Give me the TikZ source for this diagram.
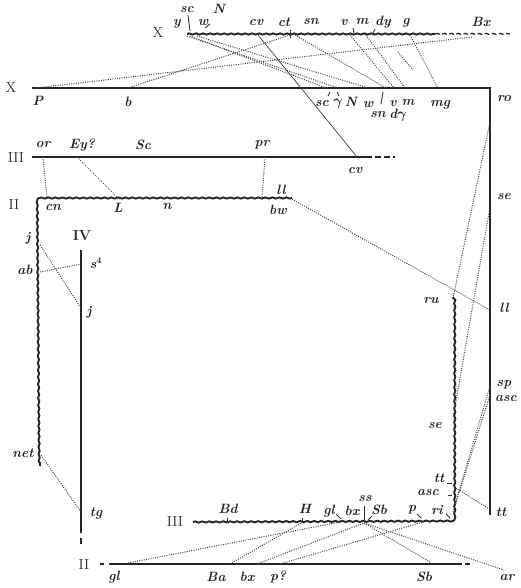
\documentclass[tikz,border=0pt]{standalone}
\usepackage{amsmath}
\usetikzlibrary{decorations.pathmorphing}
\begin{document}
\begin{tikzpicture}[x=1pt,y=-1pt,
  chrom/.style={line width=2.4pt, black!85},
  wavy/.style={line width=1.9pt, black!85, decorate, decoration={snake, amplitude=0.6pt, segment length=7pt}},
  homol/.style={line width=1pt, black!72, dash pattern=on 1pt off 1.3pt},
  thinl/.style={line width=0.7pt, black!75},
  lab/.style={font=\fontsize{13.5}{13.5}\selectfont\bfseries\itshape, inner sep=0pt, text=black!85},
  rom/.style={font=\fontsize{14.5}{14.5}\selectfont, inner sep=0pt, text=black!85},
  tickm/.style={line width=0.9pt, black!80}]
\path[use as bounding box] (0,0) rectangle (520,588);

% ---------- coordinates: top X (melanogaster X)
\coordinate (tXa) at (187,34); \coordinate (tXb) at (435,34); \coordinate (tXc) at (510,34);
\coordinate (ty) at (187,36); \coordinate (tsc) at (190,36); \coordinate (tw) at (197,36);
\coordinate (tcv) at (258,35); \coordinate (tct) at (290,35); \coordinate (tsn) at (295,35);
\coordinate (tv) at (350,35); \coordinate (tm) at (366,35); \coordinate (tdy) at (378,35);
\coordinate (tg) at (410,35); \coordinate (tBx) at (472,37);
\coordinate (sdA) at (398,52); \coordinate (sdB) at (413,70);
% lower X
\coordinate (xa) at (32,88); \coordinate (xc) at (490,88); \coordinate (xe) at (490,515);
\coordinate (xP) at (36,88); \coordinate (xb) at (128,88); \coordinate (xsc) at (326,88);
\coordinate (xy) at (338,88); \coordinate (xw) at (368,88); \coordinate (xsn) at (386,88);
\coordinate (xv) at (394,88); \coordinate (xm) at (405,88); \coordinate (xmg) at (438,88);
\coordinate (xro) at (490,122); \coordinate (xse) at (490,207); \coordinate (xll) at (490,310);
\coordinate (xsp) at (490,386); \coordinate (xasc) at (490,395); \coordinate (xtt) at (491,510);
% upper III
\coordinate (uA) at (32,157); \coordinate (uB) at (366,157); \coordinate (uC) at (395,157);
\coordinate (uor) at (43,157); \coordinate (uEy) at (77,157); \coordinate (upr) at (265,157);
\coordinate (ucv) at (357,157);
% II wavy
\coordinate (IIa) at (38,198); \coordinate (IIb) at (292,198); \coordinate (IIc) at (40,466);
\coordinate (IIcn) at (47,198); \coordinate (IIL) at (118,198); \coordinate (IIbw) at (262,198);
\coordinate (IIll) at (290,198); \coordinate (IIj) at (40,245); \coordinate (IIab) at (40,272);
\coordinate (IInet) at (41,455);
% IV
\coordinate (IVa) at (81,250); \coordinate (IVb) at (81,533); \coordinate (IVd) at (81,538); \coordinate (IVe) at (81,544);
\coordinate (IVs) at (81,264); \coordinate (IVj) at (81,308); \coordinate (IVtg) at (81,512);
% bottom III wavy
\coordinate (bA) at (193,522); \coordinate (bC) at (453,521); \coordinate (bT) at (453,297);
\coordinate (bH) at (303,522); \coordinate (bgl) at (340,522);
\coordinate (bss) at (364,523); \coordinate (bp) at (423,522);
\coordinate (bri) at (453,512); \coordinate (bri2) at (455,505); \coordinate (btt) at (454,487);
\coordinate (bse) at (453,418); \coordinate (bru) at (453,298);
% bottom II
\coordinate (cA) at (109,564); \coordinate (cB) at (457,564); \coordinate (cC) at (472,564);
\coordinate (cdA) at (100,564); \coordinate (cdB) at (104,564);
\coordinate (cgl) at (128,563); \coordinate (cBa) at (230,564); \coordinate (cbx) at (257,564);
\coordinate (cp) at (280,564); \coordinate (cSb) at (430,562); \coordinate (car) at (504,570);

% ---------- chromosomes
\draw[wavy] (tXa) -- (tXb);
\draw[wavy, line width=1.3pt, dash pattern=on 5pt off 2.5pt] (tXb) -- (tXc);
\draw[chrom] (xa) -- (xc) -- (xe);
\draw[chrom] (uA) -- (uB);
\draw[chrom, dash pattern=on 6pt off 3pt] (uB) -- (uC);
\draw[wavy] (IIb) -- (IIa) -- (IIc);
\draw[chrom, line width=2.2pt] (IVa) -- (IVb);
\draw[chrom, line width=1.8pt] (IVd) -- (IVe);
\draw[wavy] (bA) -- (bC) -- (bT);
\draw[chrom] (cA) -- (cB);
\draw[chrom, line width=1.6pt, dash pattern=on 5pt off 2.5pt] (cB) -- (cC);
\draw[chrom, line width=1.6pt] (cdA) -- (cdB);

% ---------- connectors
\draw[thinl] (tcv) -- (ucv);
\draw[homol] (tBx) -- (xP);
\draw[homol] (tct) -- (xb);
\draw[homol] (tsc) -- (xsc);
\draw[homol] (ty) -- (xy);
\draw[homol] (tw) -- (xw);
\draw[homol] (tsn) -- (xsn);
\draw[homol] (tv) -- (xv);
\draw[homol] (tm) -- (xm);
\draw[homol] (tg) -- (xmg);
\draw[homol] (sdA) -- (sdB);
\draw[homol] (uor) -- (IIcn);
\draw[homol] (uEy) -- (IIL);
\draw[homol] (upr) -- (IIbw);
\draw[homol] (IIll) -- (xll);
\draw[homol] (IIj) -- (IVj);
\draw[homol] (IIab) -- (IVs);
\draw[homol] (IInet) -- (IVtg);
\draw[homol] (xro) -- (bru);
\draw[homol] (xse) -- (bse);
\draw[homol] (xsp) -- (bri2);
\draw[homol] (xasc) -- (bri);
\draw[homol] (btt) -- (xtt);
\draw[homol] (cgl) -- (bgl);
\draw[homol] (cBa) -- (bH);
\draw[homol] (cbx) -- (bss);
\draw[homol] (cp) -- (bp);
\draw[homol] (bss) -- (cSb);
\draw[homol] (bss) -- (car);

% ---------- ticks
\draw[tickm] (188,15) -- (190,31);
\draw[tickm] (205,28) -- (210,24);
\draw[tickm] (353,28) -- (354,33);
\draw[tickm] (375,29) -- (373,33);
\draw[tickm] (290,30) -- (290,38);
\draw[tickm] (383,92) -- (381,104);
\draw[tickm] (364,506) -- (364,523);
\draw[tickm] (336,514) -- (341,519);
\draw[tickm] (372,516) -- (368,520);
\draw[tickm] (417,514) -- (421,518);
\draw[tickm] (446,514) -- (450,518);
\draw[tickm] (227,518) -- (227,523);
\draw[tickm] (302,518) -- (302,523);
\draw[tickm] (447,483) -- (452,483);
\draw[tickm] (448,495) -- (452,495);
\draw[tickm] (330,92) -- (328,96);
\draw[tickm] (337,92) -- (339,96);

% ---------- labels
\node[rom] (LtX) at (158,33) {X};
\node[rom] (LxX) at (11,88) {X};
\node[rom] (LuIII) at (16,158) {III};
\node[rom] (LII) at (14,205) {II};
\node[rom, font=\fontsize{14.5}{14.5}\selectfont\bfseries] (LIV) at (82,236) {IV};
\node[rom] (LbIII) at (175,522) {III};
\node[rom] (LbII) at (84,565) {II};

\node[lab] (l1) at (177,24) {y};
\node[lab] (l2) at (187,10) {sc};
\node[lab] (l3) at (203,22) {w};
\node[lab] (l4) at (219,9) {N};
\node[lab] (l5) at (256,22) {cv};
\node[lab] (l6) at (284,22) {ct};
\node[lab] (l7) at (311,22) {sn};
\node[lab] (l8) at (344,22) {v};
\node[lab] (l9) at (362,22) {m};
\node[lab] (l10) at (383,22) {dy};
\node[lab] (l11) at (406,23) {g};
\node[lab] (l12) at (481,22) {Bx};

\node[lab] (l13) at (38,101) {P};
\node[lab] (l14) at (128,102) {b};
\node[lab] (l15) at (322,104) {sc};
\node[lab] (l16) at (338,104) {$\boldsymbol{\gamma}$};
\node[lab] (l17) at (351,102) {N};
\node[lab] (l18) at (368,104) {w};
\node[lab] (l19) at (393,103) {v};
\node[lab] (l20) at (408,103) {m};
\node[lab] (l21) at (378,115) {sn};
\node[lab] (l22) at (398,115) {d$\boldsymbol{\gamma}$};
\node[lab] (l23) at (440,105) {mg};
\node[lab] (l24) at (504,99) {ro};
\node[lab] (l25) at (504,197) {se};
\node[lab] (l26) at (504,308) {ll};
\node[lab] (l27) at (504,385) {sp};
\node[lab] (l28) at (506,398) {asc};
\node[lab] (l29) at (501,512) {tt};

\node[lab] (l30) at (43,145) {or};
\node[lab] (l31) at (82,145) {Ey?};
\node[lab] (l32) at (143,145) {Sc};
\node[lab] (l33) at (262,145) {pr};
\node[lab] (l34) at (355,170) {cv};

\node[lab] (l35) at (53,208) {cn};
\node[lab] (l36) at (118,208) {L};
\node[lab] (l37) at (167,207) {n};
\node[lab] (l38) at (278,210) {bw};
\node[lab] (l39) at (281,190) {ll};
\node[lab] (l40) at (28,238) {j};
\node[lab] (l41) at (25,270) {ab};
\node[lab] (l42) at (23,453) {net};

\node[lab] (l43) at (96,263) {s$^{\mathbf 4}$};
\node[lab] (l44) at (89,312) {j};
\node[lab] (l45) at (96,514) {tg};

\node[lab] (l46) at (228,509) {Bd};
\node[lab] (l47) at (305,509) {H};
\node[lab] (l48) at (329,511) {gl};
\node[lab] (l49) at (352,511) {bx};
\node[lab] (l50) at (365,498) {ss};
\node[lab] (l51) at (379,510) {Sb};
\node[lab] (l52) at (412,510) {p};
\node[lab] (l53) at (437,510) {ri};
\node[lab] (l54) at (428,492) {asc};
\node[lab] (l55) at (439,478) {tt};
\node[lab] (l56) at (435,425) {se};
\node[lab] (l57) at (431,301) {ru};

\node[lab] (l58) at (114,577) {gl};
\node[lab] (l59) at (216,577) {Ba};
\node[lab] (l60) at (247,577) {bx};
\node[lab] (l61) at (278,577) {p?};
\node[lab] (l62) at (424,577) {Sb};
\node[lab] (l63) at (507,577) {ar};
\end{tikzpicture}
\end{document}
